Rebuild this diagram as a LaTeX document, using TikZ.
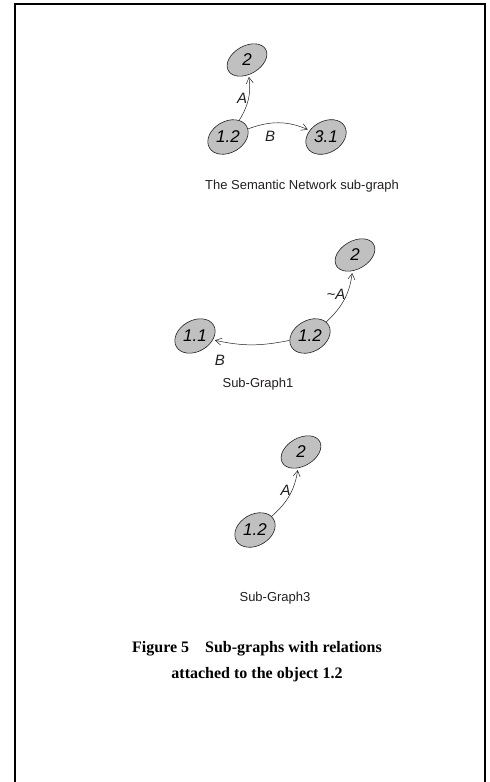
\documentclass[tikz,border=0pt]{standalone}
\usepackage{fontspec}
\setmainfont{Liberation Serif}
\setsansfont{Liberation Sans}
\usepackage{graphicx}
\usetikzlibrary{arrows.meta,positioning,shapes.geometric}
\definecolor{objgray}{HTML}{C0C0C0}
\definecolor{ink}{HTML}{231F20}
\tikzset{
  objnode/.style={
    ellipse, draw=ink, fill=objgray, line width=0.6pt,
    minimum width=43pt, minimum height=28pt,
    inner sep=0pt, rotate=30,
    font=\fontsize{17}{17}\selectfont\sffamily\itshape
  },
  relarrow/.style={
    -{Straight Barb[length=6pt,width=7pt]}, line width=0.5pt,
    color=ink, shorten >=2pt
  },
  rellabel/.style={
    font=\fontsize{15}{15}\selectfont\sffamily\itshape,
    text=ink, inner sep=1pt
  },
  subcaption/.style={
    font=\fontsize{13}{15}\selectfont\sffamily, text=ink
  },
  figcaption/.style={
    font=\fontsize{16}{26}\selectfont\bfseries, align=center
  },
  frameline/.style={line width=2.2pt, line cap=rect}
}
\newcommand{\objtext}[1]{\rotatebox{-30}{#1}}

\begin{document}
\begin{tikzpicture}[x=1pt, y=-1pt]
  \useasboundingbox (0,0) rectangle (490,782);
  \draw[frameline] (15,782) -- (15,4) -- (485,4) -- (485,782);

  % semantic network sub-graph
  \node[objnode] (n2a)  at (247,60)  {\objtext{2}};
  \node[objnode] (n12a) at (228,137) {\objtext{1.2}};
  \node[objnode] (n31a) at (326,137) {\objtext{3.1}};
  \draw[relarrow] (n12a) to[bend right=20] node[rellabel, pos=0.5, left] {A} (n2a);
  \draw[relarrow] (n12a) to[bend left=22] node[rellabel, pos=0.35, below=7pt] {B} (n31a);
  \node[subcaption] (capa) at (302,186) {The Semantic Network sub-graph};

  % sub-graph 1
  \node[objnode] (n2b)  at (355,255) {\objtext{2}};
  \node[objnode] (n12b) at (310,336) {\objtext{1.2}};
  \node[objnode] (n11b) at (195,336) {\objtext{1.1}};
  \draw[relarrow] (n12b) to[bend right=20] node[rellabel, pos=0.6, left] {\textasciitilde A} (n2b);
  \draw[relarrow] (n12b) to[bend left=12] node[rellabel, pos=0.92, below=13pt] {B} (n11b);
  \node[subcaption] (capb) at (258,384) {Sub-Graph1};

  % sub-graph 3
  \node[objnode] (n2c)  at (301,452) {\objtext{2}};
  \node[objnode] (n12c) at (255,530) {\objtext{1.2}};
  \draw[relarrow] (n12c) to[bend right=20] node[rellabel, pos=0.6, left] {A} (n2c);
  \node[subcaption] (capc) at (275,598) {Sub-Graph3};

  \node[figcaption] (fig) at (257,662) {Figure 5\quad Sub-graphs with relations\\attached to the object 1.2};
\end{tikzpicture}
\end{document}
